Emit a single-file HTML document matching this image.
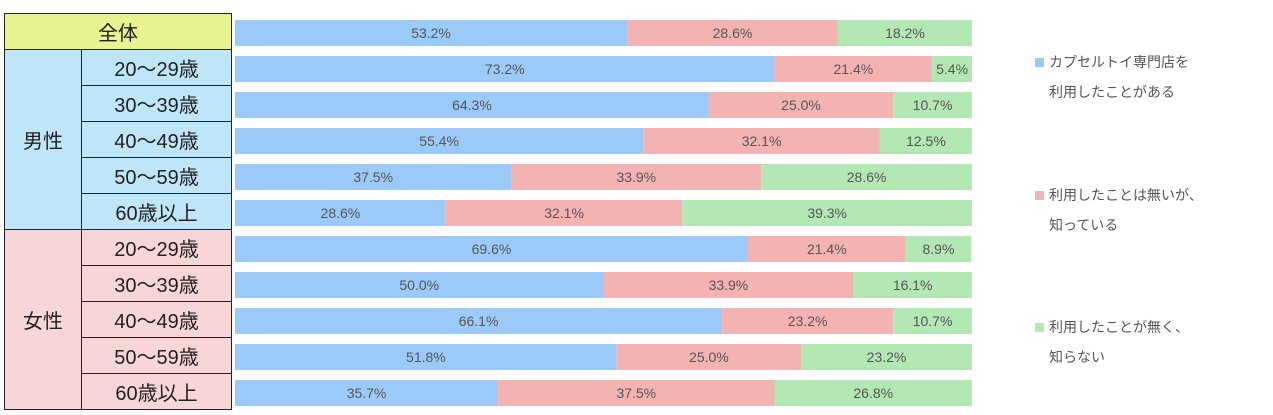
<!DOCTYPE html>
<html><head><meta charset="utf-8"><style>
body{margin:0;width:1273px;height:415px;background:#fff;position:relative;overflow:hidden;font-family:"Liberation Sans","Noto Sans CJK JP",sans-serif}
.c{position:absolute;box-sizing:border-box;border:1px solid #222;display:flex;align-items:center;justify-content:center;font-size:20px;color:#222}
.leg{position:absolute;font-size:14px;color:#555;line-height:30px}
.sq{display:inline-block;width:9px;height:9px;margin-right:5px}
</style></head><body>
<div id="tbl"></div>
<svg id="chart" width="1273" height="415" style="position:absolute;left:0;top:0"></svg>
<div class="leg" style="left:1035px;top:47px"><span class="sq" style="background:#9ccaf8"></span>カプセルトイ専門店を<br><span style="padding-left:14px">利用したことがある</span></div>
<div class="leg" style="left:1035px;top:180px"><span class="sq" style="background:#f4b3b3"></span>利用したことは無いが、<br><span style="padding-left:14px">知っている</span></div>
<div class="leg" style="left:1035px;top:312px"><span class="sq" style="background:#b3e7b3"></span>利用したことが無く、<br><span style="padding-left:14px">知らない</span></div>
<script>
const categories=["全体","20～29歳","30～39歳","40～49歳","50～59歳","60歳以上","20～29歳","30～39歳","40～49歳","50～59歳","60歳以上"];
const used=[53.2,73.2,64.3,55.4,37.5,28.6,69.6,50.0,66.1,51.8,35.7];
const know=[28.6,21.4,25.0,32.1,33.9,32.1,21.4,33.9,23.2,25.0,37.5];
const unknown=[18.2,5.4,10.7,12.5,28.6,39.3,8.9,16.1,10.7,23.2,26.8];
const colors=["#9ccaf8","#f4b3b3","#b3e7b3"];
const X0=235,W=737,TOP=13,RH=36,BH=26;
const x=v=>X0+v/100*W;
const svg=document.getElementById('chart'),NS="http://www.w3.org/2000/svg";
const tbl=document.getElementById('tbl');
function cell(l,t,w,h,bg,txt,name){const d=document.createElement('div');d.className='c';d.style.cssText=`left:${l}px;top:${t}px;width:${w}px;height:${h}px;background:${bg}`;d.textContent=txt;


tbl.appendChild(d);}
cell(4,TOP,228,RH+1,"#e8f291","全体","header-all");
cell(4,TOP+RH,78,RH*5+1,"#bfe6f8","男性","group-male");
cell(4,TOP+RH*6,78,RH*5+1,"#f8d6d8","女性","group-female");
for(let i=1;i<categories.length;i++){cell(81,TOP+RH*i,151,RH+1,i<=5?"#bfe6f8":"#f8d6d8",categories[i],"row-label-"+i);}
categories.forEach((c,i)=>{
 const vals=[used[i],know[i],unknown[i]];let acc=0;
 const y=TOP+RH*i+7;
 vals.forEach((v,k)=>{
  const r=document.createElementNS(NS,'rect');
  r.setAttribute('x',x(acc));r.setAttribute('y',y);r.setAttribute('width',x(acc+v)-x(acc));r.setAttribute('height',BH);r.setAttribute('fill',colors[k]);
  
  
  svg.appendChild(r);
  const t=document.createElementNS(NS,'text');
  t.setAttribute('x',(x(acc)+x(acc+v))/2);t.setAttribute('y',y+BH/2+5);t.setAttribute('text-anchor','middle');
  t.setAttribute('font-size','14');t.setAttribute('fill','#555');t.setAttribute('font-family','Liberation Sans, sans-serif');
  t.textContent=v.toFixed(1)+'%';
  
  
  svg.appendChild(t);
  acc+=v;
 });
});
</script>
</body></html>
